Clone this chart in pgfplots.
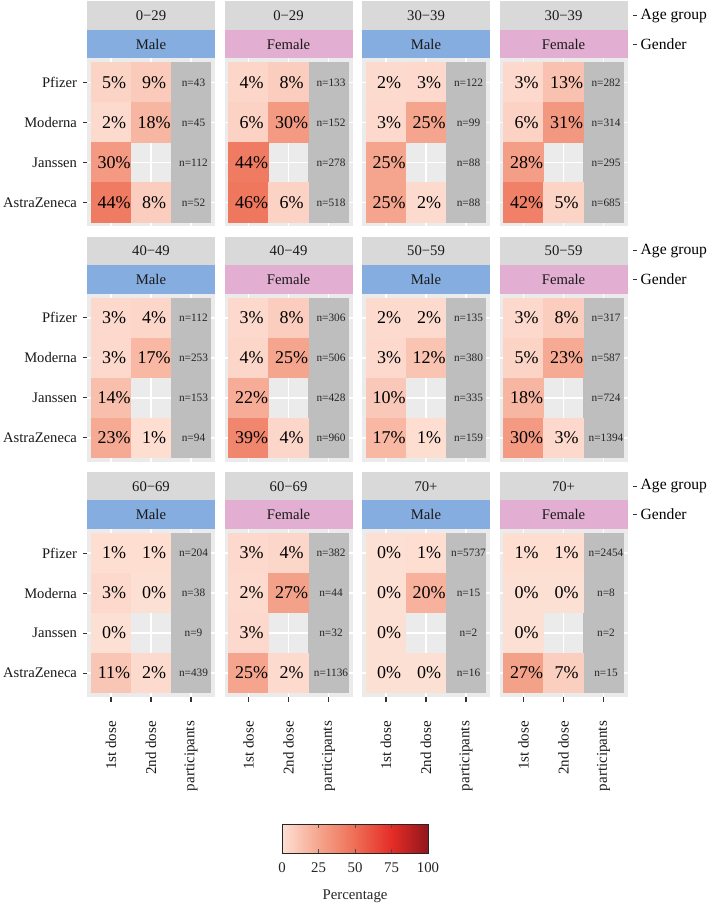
\documentclass[border=0pt]{standalone}
\usepackage{fontspec}
\setmainfont{Liberation Serif}
\usepackage{pgfplots}
\usepackage{pgfplotstable}
\pgfplotsset{compat=1.18}
\definecolor{stripgray}{HTML}{D9D9D9}
\definecolor{male}{HTML}{86ADDF}
\definecolor{female}{HTML}{E2AED1}
\definecolor{panelbg}{HTML}{EBEBEB}
\definecolor{partgray}{HTML}{BEBEBE}
\definecolor{tickc}{HTML}{333333}
\definecolor{striptext}{HTML}{1A1A1A}
\newcommand\pctfont{\fontsize{18}{20}\selectfont}
\newcommand\nfont{\fontsize{11.3}{13}\selectfont}
\newcommand\labfont{\fontsize{14.6}{16}\selectfont}
\newcommand\stripfont{\fontsize{14.7}{16}\selectfont}
\newcommand\xlabfont{\fontsize{15}{17}\selectfont}
\newcommand\rfont{\fontsize{15.6}{17}\selectfont}
\newcommand\cbfont{\fontsize{14.8}{17}\selectfont}
\pgfdeclareplotmark{tile}{\pgfpathrectangle{\pgfqpoint{-20.2pt}{-20.2pt}}{\pgfqpoint{40.4pt}{40.4pt}}\pgfusepathqfill}
\pgfdeclareplotmark{nothing}{}
\pgfdeclarehorizontalshading{pctshade}{100bp}{rgb(0bp)=(0.992,0.878,0.831); rgb(25bp)=(0.992,0.878,0.831); rgb(37.5bp)=(0.961,0.647,0.557); rgb(50bp)=(0.933,0.431,0.333); rgb(62.5bp)=(0.894,0.176,0.149); rgb(75bp)=(0.569,0.086,0.110); rgb(100bp)=(0.569,0.086,0.110)}
\pgfplotsset{
 colormap={pct}{rgb255=(253,224,212) rgb255=(245,165,142) rgb255=(238,110,85) rgb255=(228,45,38) rgb255=(145,22,28)},
 panel/.style={scale only axis, width=128pt, height=168pt, anchor=north west,
   xmin=-0.6, xmax=2.6, ymin=-0.6, ymax=3.6,
   axis background/.style={fill=panelbg},
   axis line style={draw=none},
   xtick={0,1,2}, ytick={0,1,2,3},
   xticklabels={}, yticklabels={},
   grid=major, major grid style={white, line width=1.8pt},
   tick align=outside, major tick length=4.5pt, tick pos=left,
   xtick style={draw=none}, ytick style={draw=none},
   clip=false,
   point meta min=0, point meta max=100},
 leftcol/.style={yticklabels={AstraZeneca,Janssen,Moderna,Pfizer},
   ytick style={draw=tickc, line width=1.1pt},
   yticklabel style={font=\labfont, text=black!90, xshift=-2pt}},
 bottomrow/.style={xticklabels={1st dose,2nd dose,participants},
   xtick style={draw=tickc, line width=1.1pt},
   xticklabel shift=16pt,
   xticklabel style={font=\xlabfont, text=black!90, rotate=90, anchor=east}},
 tiles/.style={scatter, only marks, mark=tile,
   scatter/use mapped color={fill=mapped color},
   point meta=\thisrow{v}},
 pcttext/.style={only marks, mark=nothing,
   point meta=explicit symbolic,
   nodes near coords={\pgfplotspointmeta\%},
   every node near coord/.append style={anchor=center, font=\pctfont, text=black, xshift=3pt}},
 ntiles/.style={only marks, mark=tile, mark options={fill=partgray},
   visualization depends on={value \thisrow{n} \as \nval},
   nodes near coords={n=\nval},
   every node near coord/.append style={anchor=center, font=\nfont, text=black!85, xshift=2.5pt}},
}
% dose tables: x (0 = 1st dose, 1 = 2nd dose), y (3 Pfizer, 2 Moderna, 1 Janssen, 0 AstraZeneca), v (%)
\pgfplotstableread[row sep=\\]{x y v\\0 3 5\\1 3 9\\0 2 2\\1 2 18\\0 1 30\\0 0 44\\1 0 8\\}\dA
\pgfplotstableread[row sep=\\]{x y v\\0 3 4\\1 3 8\\0 2 6\\1 2 30\\0 1 44\\0 0 46\\1 0 6\\}\dB
\pgfplotstableread[row sep=\\]{x y v\\0 3 2\\1 3 3\\0 2 3\\1 2 25\\0 1 25\\0 0 25\\1 0 2\\}\dC
\pgfplotstableread[row sep=\\]{x y v\\0 3 3\\1 3 13\\0 2 6\\1 2 31\\0 1 28\\0 0 42\\1 0 5\\}\dD
\pgfplotstableread[row sep=\\]{x y v\\0 3 3\\1 3 4\\0 2 3\\1 2 17\\0 1 14\\0 0 23\\1 0 1\\}\dE
\pgfplotstableread[row sep=\\]{x y v\\0 3 3\\1 3 8\\0 2 4\\1 2 25\\0 1 22\\0 0 39\\1 0 4\\}\dF
\pgfplotstableread[row sep=\\]{x y v\\0 3 2\\1 3 2\\0 2 3\\1 2 12\\0 1 10\\0 0 17\\1 0 1\\}\dG
\pgfplotstableread[row sep=\\]{x y v\\0 3 3\\1 3 8\\0 2 5\\1 2 23\\0 1 18\\0 0 30\\1 0 3\\}\dH
\pgfplotstableread[row sep=\\]{x y v\\0 3 1\\1 3 1\\0 2 3\\1 2 0\\0 1 0\\0 0 11\\1 0 2\\}\dI
\pgfplotstableread[row sep=\\]{x y v\\0 3 3\\1 3 4\\0 2 2\\1 2 27\\0 1 3\\0 0 25\\1 0 2\\}\dJ
\pgfplotstableread[row sep=\\]{x y v\\0 3 0\\1 3 1\\0 2 0\\1 2 20\\0 1 0\\0 0 0\\1 0 0\\}\dK
\pgfplotstableread[row sep=\\]{x y v\\0 3 1\\1 3 1\\0 2 0\\1 2 0\\0 1 0\\0 0 27\\1 0 7\\}\dL
\newcommand\strips[5]{%
\begin{scope}[shift={(#1pt,-#2pt)}]
\fill[stripgray] (0,-1.5pt) rectangle (128pt,-29.8pt);
\node[font=\stripfont, text=striptext] at (64pt,-15.65pt) {#3};
\fill[#5] (0,-29.8pt) rectangle (128pt,-58.3pt);
\node[font=\stripfont, text=striptext] at (64pt,-44.05pt) {#4};
\end{scope}}
\newcommand\rlab[1]{%
\begin{scope}[shift={(0,-#1pt)}]
\draw[tickc, line width=1pt] (633pt,-15.65pt) -- (637pt,-15.65pt);
\node[anchor=west, font=\rfont, inner sep=0pt] at (640.5pt,-15.65pt) {Age group};
\draw[tickc, line width=1pt] (633pt,-44.05pt) -- (637pt,-44.05pt);
\node[anchor=west, font=\rfont, inner sep=0pt] at (640.5pt,-44.05pt) {Gender};
\end{scope}}
\begin{document}
\begin{tikzpicture}
\useasboundingbox (0,0) rectangle (708pt,-904pt);
\fill[white] (0,0) rectangle (708pt,-904pt);
% ---------- row 1
\strips{87}{0}{0−29}{Male}{male}
\strips{224.5}{0}{0−29}{Female}{female}
\strips{362}{0}{30−39}{Male}{male}
\strips{499.5}{0}{30−39}{Female}{female}
\rlab{0}
\begin{axis}[panel, leftcol, at={(87pt,-58.5pt)}]
\addplot[ntiles] table[x expr=2, y=y, row sep=\\]{y n\\3 43\\2 45\\1 112\\0 52\\};
\addplot[tiles] table{\dA};
\addplot[pcttext] table[meta=v]{\dA};
\end{axis}
\begin{axis}[panel, at={(224.5pt,-58.5pt)}]
\addplot[ntiles] table[x expr=2, y=y, row sep=\\]{y n\\3 133\\2 152\\1 278\\0 518\\};
\addplot[tiles] table{\dB};
\addplot[pcttext] table[meta=v]{\dB};
\end{axis}
\begin{axis}[panel, at={(362pt,-58.5pt)}]
\addplot[ntiles] table[x expr=2, y=y, row sep=\\]{y n\\3 122\\2 99\\1 88\\0 88\\};
\addplot[tiles] table{\dC};
\addplot[pcttext] table[meta=v]{\dC};
\end{axis}
\begin{axis}[panel, at={(499.5pt,-58.5pt)}]
\addplot[ntiles] table[x expr=2, y=y, row sep=\\]{y n\\3 282\\2 314\\1 295\\0 685\\};
\addplot[tiles] table{\dD};
\addplot[pcttext] table[meta=v]{\dD};
\end{axis}
% ---------- row 2
\strips{87}{235.3}{40−49}{Male}{male}
\strips{224.5}{235.3}{40−49}{Female}{female}
\strips{362}{235.3}{50−59}{Male}{male}
\strips{499.5}{235.3}{50−59}{Female}{female}
\rlab{235.3}
\begin{axis}[panel, leftcol, at={(87pt,-293.8pt)}]
\addplot[ntiles] table[x expr=2, y=y, row sep=\\]{y n\\3 112\\2 253\\1 153\\0 94\\};
\addplot[tiles] table{\dE};
\addplot[pcttext] table[meta=v]{\dE};
\end{axis}
\begin{axis}[panel, at={(224.5pt,-293.8pt)}]
\addplot[ntiles] table[x expr=2, y=y, row sep=\\]{y n\\3 306\\2 506\\1 428\\0 960\\};
\addplot[tiles] table{\dF};
\addplot[pcttext] table[meta=v]{\dF};
\end{axis}
\begin{axis}[panel, at={(362pt,-293.8pt)}]
\addplot[ntiles] table[x expr=2, y=y, row sep=\\]{y n\\3 135\\2 380\\1 335\\0 159\\};
\addplot[tiles] table{\dG};
\addplot[pcttext] table[meta=v]{\dG};
\end{axis}
\begin{axis}[panel, at={(499.5pt,-293.8pt)}]
\addplot[ntiles] table[x expr=2, y=y, row sep=\\]{y n\\3 317\\2 587\\1 724\\0 1394\\};
\addplot[tiles] table{\dH};
\addplot[pcttext] table[meta=v]{\dH};
\end{axis}
% ---------- row 3
\strips{87}{470.6}{60−69}{Male}{male}
\strips{224.5}{470.6}{60−69}{Female}{female}
\strips{362}{470.6}{70+}{Male}{male}
\strips{499.5}{470.6}{70+}{Female}{female}
\rlab{470.6}
\begin{axis}[panel, leftcol, bottomrow, at={(87pt,-529.1pt)}]
\addplot[ntiles] table[x expr=2, y=y, row sep=\\]{y n\\3 204\\2 38\\1 9\\0 439\\};
\addplot[tiles] table{\dI};
\addplot[pcttext] table[meta=v]{\dI};
\end{axis}
\begin{axis}[panel, bottomrow, at={(224.5pt,-529.1pt)}]
\addplot[ntiles] table[x expr=2, y=y, row sep=\\]{y n\\3 382\\2 44\\1 32\\0 1136\\};
\addplot[tiles] table{\dJ};
\addplot[pcttext] table[meta=v]{\dJ};
\end{axis}
\begin{axis}[panel, bottomrow, at={(362pt,-529.1pt)}]
\addplot[ntiles] table[x expr=2, y=y, row sep=\\]{y n\\3 5737\\2 15\\1 2\\0 16\\};
\addplot[tiles] table{\dK};
\addplot[pcttext] table[meta=v]{\dK};
\end{axis}
\begin{axis}[panel, bottomrow, at={(499.5pt,-529.1pt)}]
\addplot[ntiles] table[x expr=2, y=y, row sep=\\]{y n\\3 2454\\2 8\\1 2\\0 15\\};
\addplot[tiles] table{\dL};
\addplot[pcttext] table[meta=v]{\dL};
\end{axis}
% ---------- colour bar
\begin{axis}[at={(282pt,-824pt)}, anchor=north west, scale only axis, width=146pt, height=29pt,
  xmin=0, xmax=100, ymin=0, ymax=1, ytick=\empty,
  axis background/.style={shading=pctshade, shading angle=0},
  xtick={0,25,50,75,100}, tick align=inside, xtick pos=both, xticklabel pos=left,
  major tick length=4pt, xtick style={draw=black!70, line width=0.8pt},
  axis line style={black!85, line width=0.9pt},
  xticklabel shift=6pt,
  xticklabel style={font=\cbfont, text=black!85},
  /pgf/number format/assume math mode=true,
  xlabel={Percentage}, xlabel style={font=\cbfont, text=black!85, yshift=-10pt}]
\addplot[draw=none, mark=none] coordinates {(0,0) (100,1)};
\end{axis}
\end{tikzpicture}
\end{document}
